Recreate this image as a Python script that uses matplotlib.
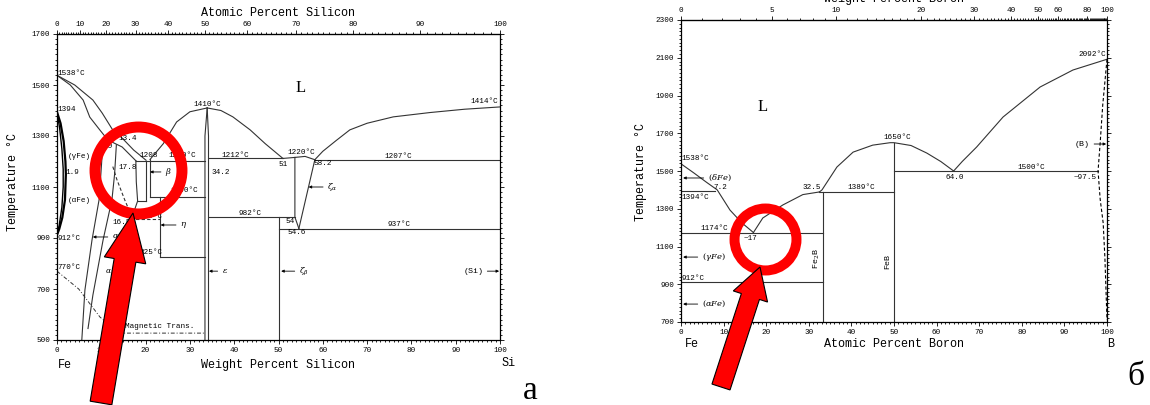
import numpy as np
import matplotlib
matplotlib.use('Agg')
import matplotlib.pyplot as plt
from matplotlib.patches import Polygon

W, H = 1150, 405
MONO = ['Liberation Mono', 'DejaVu Sans Mono', 'DejaVu Sans']
SERIF = ['Liberation Serif', 'DejaVu Serif']
plt.rcParams['font.family'] = MONO
plt.rcParams['mathtext.fontset'] = 'dejavuserif'
LC = '#333333'
FS = 5.5

# ---------------- Fe-Si (wt% Si, deg C) ----------------
fesi_liq_fe = [(0, 1538), (4, 1500), (8.1, 1441), (10.2, 1390), (12.6, 1323), (14.7, 1292), (17.3, 1245), (20.1, 1205)]
fesi_sol_fe = [(0, 1538), (3, 1500), (5.9, 1441), (7.4, 1374), (9.7, 1323), (11.5, 1284), (14.7, 1257), (17.8, 1203)]
fesi_c1 = [(10.4, 1280), (9.9, 1150), (9.5, 1050), (7.9, 892), (6.3, 696), (5.6, 500)]
fesi_c2 = [(13.4, 1265), (13.0, 1150), (12.4, 1050), (10.4, 892), (8.1, 676), (7.0, 545)]
fesi_order = [(12.6, 1180), (13.5, 1130), (15.3, 1049), (16.5, 1000)]
fesi_gamma_out = [(0, 1394), (0.8, 1350), (1.5, 1280), (1.9, 1200), (2.0, 1150), (1.8, 1050), (1.2, 980), (0.5, 935), (0, 912)]
fesi_gamma_in = [(0, 1394), (0.6, 1330), (1.1, 1250), (1.4, 1170), (1.4, 1100), (1.1, 1020), (0.5, 950), (0, 912)]
fesi_a2 = [(17.8, 1203), (17.9, 1120), (18.2, 1045), (17.5, 1010), (16.5, 975)]
fesi_beta_l = [(20.1, 1203), (20.1, 1045)]
fesi_beta_r = [(21.0, 1208), (21.0, 1060)]
fesi_eut = [(17.8, 1203), (21.0, 1203)]
fesi_eutd = [(18.2, 1045), (20.1, 1045)]
fesi_h1200 = [(21.0, 1203), (33.4, 1203)]
fesi_h1060 = [(21.0, 1060), (33.4, 1060)]
fesi_h975 = [(16.5, 975), (23.2, 975)]
fesi_eta = [(23.2, 1060), (23.2, 825)]
fesi_h825 = [(23.2, 825), (33.4, 825)]
fesi_eps_l = [(33.9, 1410), (33.4, 1300), (33.4, 500)]
fesi_eps_r = [(33.9, 1410), (34.2, 1300), (34.2, 500)]
fesi_liq_eps_l = [(21.0, 1208), (24, 1270), (27, 1355), (30, 1395), (33.9, 1410)]
fesi_liq_eps_r = [(33.9, 1410), (37, 1400), (39.7, 1375), (43.6, 1324), (47, 1270), (51, 1212)]
fesi_h1212 = [(34.2, 1212), (51, 1212)]
fesi_zeta_top = [(51, 1212), (53.7, 1216), (56, 1220), (58.2, 1207)]
fesi_zeta_l = [(53.7, 1216), (53.7, 982), (54.6, 937)]
fesi_zeta_r = [(58.2, 1207), (54.6, 937)]
fesi_h982 = [(34.2, 982), (53.7, 982)]
fesi_zeta_b = [(50.1, 982), (50.1, 500)]
fesi_h937 = [(50.1, 937), (100, 937)]
fesi_h1207 = [(58.2, 1207), (100, 1207)]
fesi_liq_si = [(58.2, 1207), (60, 1240), (63, 1282), (66.1, 1324), (70, 1350), (75.9, 1375), (84.2, 1392), (92, 1405), (100, 1414)]
fesi_mag = [(0, 770), (4.9, 700), (9.7, 590), (14, 527), (33.4, 527)]

fesi_labels = [
    ('1538°C', 0.2, 1547, 'left'), ('1394', 0.2, 1402, 'left'), ('10', 10.4, 1257, 'left'),
    ('13.4', 13.8, 1292, 'left'), ('(γFe)', 2.5, 1218, 'left'), ('1.9', 1.8, 1155, 'left'),
    ('(αFe)', 2.5, 1049, 'left'), ('17.8', 13.8, 1178, 'left'), ('1208', 18.7, 1225, 'left'),
    ('1200°C', 25.1, 1222, 'left'), ('1060°C', 25.5, 1088, 'left'), ('34.2', 34.8, 1155, 'left'),
    ('1410°C', 33.9, 1425, 'center'), ('1212°C', 37.2, 1225, 'left'), ('51', 49.9, 1190, 'left'),
    ('1220°C', 52.1, 1235, 'left'), ('58.2', 58.0, 1194, 'left'), ('1207°C', 74.0, 1220, 'left'),
    ('1414°C', 99.5, 1435, 'right'), ('982°C', 40.9, 998, 'left'), ('54', 51.5, 963, 'left'),
    ('54.6', 52.1, 923, 'left'), ('937°C', 74.5, 951, 'left'), ('912°C', 0.2, 900, 'left'),
    ('16.5', 12.4, 959, 'left'), ('990°C', 18.7, 985, 'left'), ('825°C', 18.7, 845, 'left'),
    ('770°C', 0.2, 786, 'left'), (r'$\alpha_1$', 10.8, 767, 'left'), ('Magnetic Trans.', 15.3, 551, 'left'),
]
# (text, text x, head x, T)
fesi_tags = [
    (r'$\beta$', 24.4, 21.0, 1159), (r'$\zeta_\alpha$', 61.0, 56.8, 1100), (r'$\zeta_\beta$', 54.6, 50.6, 770),
    (r'$\epsilon$', 37.2, 34.3, 770), ('(Si)', 96.2, 99.8, 770), (r'$\eta$', 27.8, 23.4, 951),
    (r'$\alpha_2$', 12.4, 8.1, 904),
]

# ---------------- Fe-B (at% B, deg C) ----------------
feb_liq1 = [(0, 1538), (3, 1490), (6, 1440), (8.5, 1400), (11.5, 1293), (14.3, 1225), (17, 1174)]
feb_liq2 = [(17, 1174), (19.2, 1251), (23.9, 1320), (28.6, 1375), (32.5, 1389)]
feb_liq3 = [(32.5, 1389), (33.1, 1400), (36.6, 1521), (40.4, 1600), (45, 1637), (49.1, 1650), (50, 1650),
            (54, 1635), (57.7, 1595), (61, 1550), (64, 1500)]
feb_liq4 = [(64, 1500), (66, 1550), (69.4, 1627), (75.6, 1786), (84.3, 1945), (92, 2035), (100, 2092)]
feb_h1394 = [(0, 1392), (8.0, 1392)]
feb_h1174 = [(0, 1174), (33.3, 1174)]
feb_h912 = [(0, 912), (33.3, 912)]
feb_h1389 = [(32.5, 1389), (50, 1389)]
feb_h1500 = [(50, 1500), (97.9, 1500)]
feb_fe2b = [(33.3, 1389), (33.3, 700)]
feb_feb = [(50, 1650), (50, 700)]
feb_bsolv = [(100, 2092), (99, 1850), (98.4, 1650), (97.9, 1500), (98.4, 1350), (99.1, 1225), (99.5, 1044), (100, 711)]

feb_labels = [
    ('1538°C', 0.2, 1564, 'left'), ('7.2', 7.5, 1415, 'left'), ('1394°C', 0.2, 1362, 'left'),
    ('32.5', 28.6, 1410, 'left'), ('1389°C', 39.0, 1410, 'left'), ('1650°C', 50.7, 1675, 'center'),
    ('2092°C', 99.8, 2115, 'right'), ('1500°C', 78.9, 1521, 'left'), ('64.0', 62.0, 1468, 'left'),
    ('~97.5', 97.7, 1468, 'right'), ('1174°C', 4.5, 1193, 'left'), ('~17', 14.6, 1145, 'left'),
    ('912°C', 0.2, 930, 'left'),
]
feb_tags = [
    (r'$(\delta Fe)$', 6.3, 0.5, 1463), (r'$(\gamma Fe)$', 4.9, 0.5, 1044), (r'$(\alpha Fe)$', 4.9, 0.5, 795),
    ('(B)', 96.0, 99.8, 1643),
]

si_top_ticks = [0, 10, 20, 30, 40, 50, 60, 70, 80, 90, 100]
b_top_ticks = [0, 5, 10, 20, 30, 40, 50, 60, 80, 100]


def si_wt2at(w):
    w = np.asarray(w, float)
    a = w / 28.0855
    b = (100 - w) / 55.845
    with np.errstate(all='ignore'):
        return 100 * a / (a + b)


def si_at2wt(x):
    x = np.asarray(x, float)
    a = x * 28.0855
    b = (100 - x) * 55.845
    with np.errstate(all='ignore'):
        return 100 * a / (a + b)


def b_at2wt(x):
    x = np.asarray(x, float)
    a = x * 10.81
    b = (100 - x) * 55.845
    with np.errstate(all='ignore'):
        return 100 * a / (a + b)


def b_wt2at(w):
    w = np.asarray(w, float)
    a = w / 10.81
    b = (100 - w) / 55.845
    with np.errstate(all='ignore'):
        return 100 * a / (a + b)


def fx(px, py):
    return px / W, 1 - py / H


def curve(ax, pts, **kw):
    xs, ys = zip(*pts)
    kw.setdefault('color', LC)
    kw.setdefault('lw', 0.8)
    ax.plot(xs, ys, **kw)


def tag(ax, text, xt, xh, t):
    ha = 'left' if xt > xh else 'right'
    ax.annotate(text, xy=(xh, t), xytext=(xt, t), fontsize=FS + 0.5, ha=ha, va='center',
                arrowprops=dict(arrowstyle='-|>', lw=0.6, color='k', mutation_scale=4,
                                shrinkA=1, shrinkB=0))


def style(ax, ymaj, ymin_step):
    ax.set_xticks(np.arange(0, 101, 10))
    ax.set_xticks(np.arange(0, 101, 1), minor=True)
    ax.set_yticks(ymaj)
    ax.set_yticks(np.arange(ymaj[0], ymaj[-1] + 1, ymin_step), minor=True)
    ax.tick_params(which='both', direction='out', labelsize=FS, width=0.6, pad=2,
                   right=True, labelright=False)
    ax.tick_params(which='major', length=3)
    ax.tick_params(which='minor', length=1.3)
    for s in ax.spines.values():
        s.set_linewidth(0.9)


fig = plt.figure(figsize=(W / 100, H / 100), dpi=100)

# ---------- left panel ----------
ax1 = fig.add_axes([57 / W, 1 - 340 / H, (500 - 57) / W, (340 - 34) / H])
ax1.set_xlim(0, 100)
ax1.set_ylim(500, 1700)
style(ax1, list(range(500, 1701, 200)), 20)

for c in [fesi_liq_fe, fesi_sol_fe, fesi_c1, fesi_c2, fesi_a2, fesi_beta_l, fesi_beta_r, fesi_eut,
          fesi_eutd, fesi_h1200, fesi_h1060, fesi_eta, fesi_h825, fesi_eps_l, fesi_eps_r,
          fesi_liq_eps_l, fesi_liq_eps_r, fesi_h1212, fesi_zeta_top, fesi_zeta_l, fesi_zeta_r,
          fesi_h982, fesi_zeta_b, fesi_h937, fesi_h1207, fesi_liq_si]:
    curve(ax1, c)
curve(ax1, fesi_gamma_out, color='k', lw=1.6)
curve(ax1, fesi_gamma_in, color='k', lw=1.0)
curve(ax1, fesi_order, ls=(0, (3, 2)))
curve(ax1, fesi_h975, ls=(0, (3, 2)))
curve(ax1, fesi_mag, ls=(0, (4, 2, 1, 2)), lw=0.7)

for text, x, t, ha in fesi_labels:
    ax1.text(x, t, text, fontsize=FS, ha=ha, va='center')
for text, xt, xh, t in fesi_tags:
    tag(ax1, text, xt, xh, t)
ax1.text(54.9, 1488, 'L', fontsize=12, family=SERIF, ha='center', va='center')

sec1 = ax1.secondary_xaxis('top', functions=(si_wt2at, si_at2wt))
sec1.set_xticks(si_top_ticks)
sec1.set_xticks(np.arange(0, 101, 1), minor=True)
sec1.tick_params(which='both', direction='out', labelsize=FS, width=0.6, pad=1)
sec1.tick_params(which='major', length=3)
sec1.tick_params(which='minor', length=1.3)

fig.text(*fx(278, 13), 'Atomic Percent Silicon', fontsize=8.5, ha='center', va='center')
fig.text(*fx(65, 365), 'Fe', fontsize=8.5, ha='center', va='center')
fig.text(*fx(278, 365), 'Weight Percent Silicon', fontsize=8.5, ha='center', va='center')
fig.text(*fx(508, 363), 'Si', fontsize=8.5, ha='center', va='center')
fig.text(*fx(13, 182), 'Temperature °C', fontsize=8.5, ha='center', va='center', rotation=90)

# ---------- right panel ----------
ax2 = fig.add_axes([681 / W, 1 - 322 / H, (1107 - 681) / W, (322 - 20) / H])
ax2.set_xlim(0, 100)
ax2.set_ylim(700, 2300)
style(ax2, list(range(700, 2301, 200)), 20)

for c in [feb_liq1, feb_liq2, feb_liq3, feb_liq4, feb_h1394, feb_h1174, feb_h912, feb_h1389,
          feb_h1500, feb_fe2b, feb_feb]:
    curve(ax2, c)
curve(ax2, feb_bsolv, ls=(0, (3, 2)), color='k')

for text, x, t, ha in feb_labels:
    ax2.text(x, t, text, fontsize=FS, ha=ha, va='center')
for text, xt, xh, t in feb_tags:
    tag(ax2, text, xt, xh, t)
ax2.text(19.2, 1839, 'L', fontsize=12, family=SERIF, ha='center', va='center')
ax2.text(31.9, 1034, 'Fe$_2$B', fontsize=FS + 0.5, rotation=90, ha='center', va='center')
ax2.text(48.6, 1018, 'FeB', fontsize=FS + 0.5, rotation=90, ha='center', va='center')

sec2 = ax2.secondary_xaxis('top', functions=(b_at2wt, b_wt2at))
sec2.set_xticks(b_top_ticks)
sec2.set_xticks(np.arange(0, 101, 1), minor=True)
sec2.tick_params(which='both', direction='out', labelsize=FS, width=0.6, pad=1)
sec2.tick_params(which='major', length=3)
sec2.tick_params(which='minor', length=1.3)

fig.text(*fx(894, -1), 'Weight Percent Boron', fontsize=8.5, ha='center', va='center')
fig.text(*fx(692, 344), 'Fe', fontsize=8.5, ha='center', va='center')
fig.text(*fx(894, 344), 'Atomic Percent Boron', fontsize=8.5, ha='center', va='center')
fig.text(*fx(1111, 344), 'B', fontsize=8.5, ha='center', va='center')
fig.text(*fx(641, 172), 'Temperature °C', fontsize=8.5, ha='center', va='center', rotation=90)

# ---------- red highlights ----------
ax1.plot([18.3], [1167], 'o', ms=62.6, mfc='none', mec='red', mew=7.9, clip_on=False, zorder=10)
ax2.plot([19.7], [1140], 'o', ms=44.6, mfc='none', mec='red', mew=7.2, clip_on=False, zorder=10)


def red_arrow(tip, tail, head_len, head_half, shaft_half):
    tip = np.array(tip, float)
    tail = np.array(tail, float)
    u = (tip - tail) / np.linalg.norm(tip - tail)
    n = np.array([-u[1], u[0]])
    base = tip - head_len * u
    pts = [tail + shaft_half * n, base + shaft_half * n, base + head_half * n, tip,
           base - head_half * n, base - shaft_half * n, tail - shaft_half * n]
    pts = [fx(p[0], p[1]) for p in pts]
    fig.add_artist(Polygon(pts, closed=True, fc='red', ec='black', lw=0.8,
                           transform=fig.transFigure, zorder=20))


red_arrow((133, 213), (101, 403), 48, 21, 11)
red_arrow((760, 267), (721, 387), 31, 18, 9.5)

fig.text(*fx(530, 391), 'а', fontsize=24, family=SERIF, ha='center', va='center')
fig.text(*fx(1136, 377), 'б', fontsize=24, family=SERIF, ha='center', va='center')

fig.savefig('out.png', dpi=100)
